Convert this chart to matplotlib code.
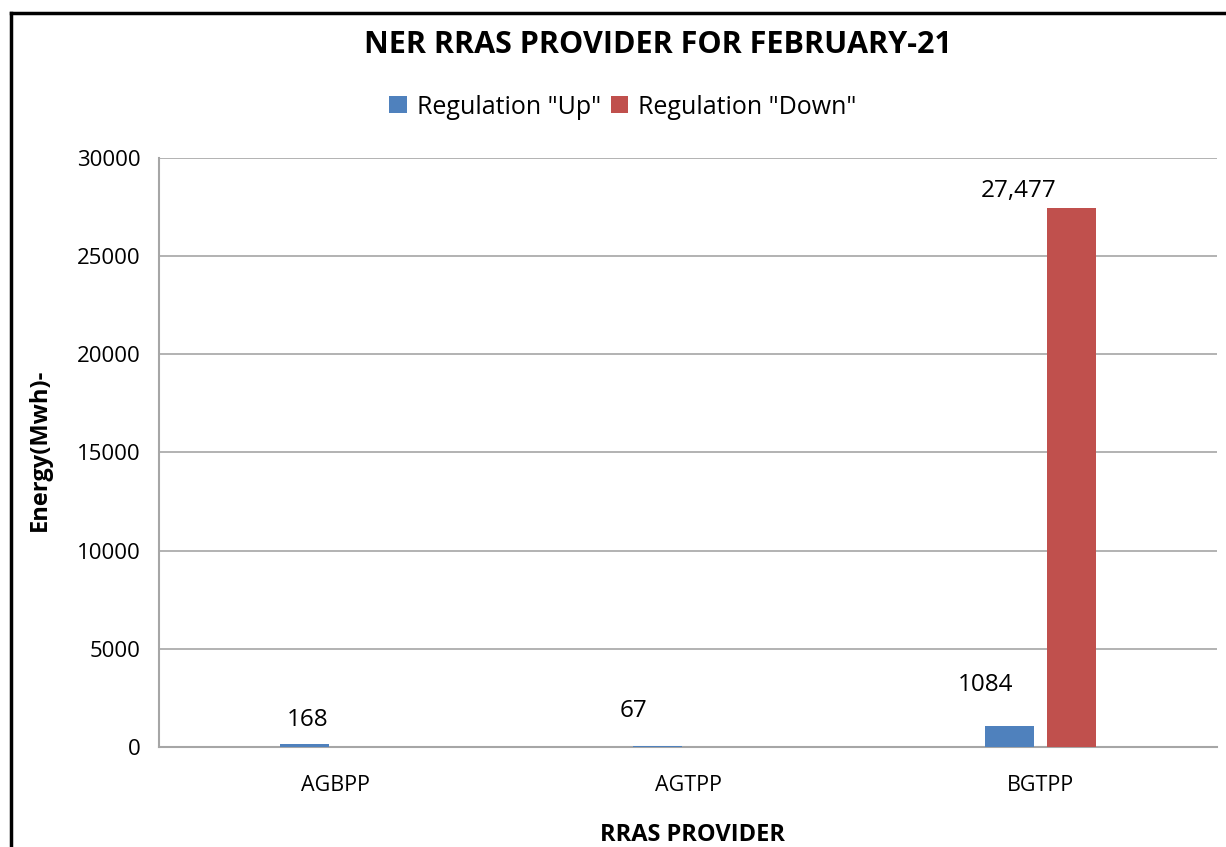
import matplotlib
matplotlib.use("Agg")
import matplotlib.pyplot as plt
from matplotlib.lines import Line2D
import numpy as np

plt.rcParams['font.family'] = ['Open Sans', 'DejaVu Sans']

categories = ["AGBPP", "AGTPP", "BGTPP"]
up_values = [168, 67, 1084]
down_values = [0, 0, 27477]
up_labels = ["168", "67", "1084"]
down_labels = ["", "", "27,477"]
yticks = [0, 5000, 10000, 15000, 20000, 25000, 30000]

# label offsets in pixels (dx, dy) relative to bar top centre
up_offsets = [(3, 24), (-24, 35), (-24, 41)]
down_offsets = [(0, 0), (0, 0), (-53, 17)]

BLUE = "#4F81BD"
RED = "#C0504D"
GRID = "#A6A6A6"

fig = plt.figure(figsize=(12.26, 8.47), dpi=100)
ax = fig.add_axes([159/1226, 1-747/847, (1217-159)/1226, (747-158)/847])

x = np.arange(len(categories))
w = 0.139
off = 0.087
bu = ax.bar(x - off, up_values, w, color=BLUE, label='Regulation "Up"', zorder=3)
bd = ax.bar(x + off, down_values, w, color=RED, label='Regulation "Down"', zorder=3)

for rect, lab, (dx, dy) in zip(bu, up_labels, up_offsets):
    if lab:
        ax.annotate(lab, (rect.get_x() + rect.get_width()/2, rect.get_height()),
                    xytext=(dx, dy), textcoords='offset pixels',
                    ha='center', va='center', fontsize=17.5, color='#000000')
for rect, lab, (dx, dy) in zip(bd, down_labels, down_offsets):
    if lab:
        ax.annotate(lab, (rect.get_x() + rect.get_width()/2, rect.get_height()),
                    xytext=(dx, dy), textcoords='offset pixels',
                    ha='center', va='center', fontsize=17.5, color='#000000')

ax.set_xlim(-0.5, 2.5)
ax.set_ylim(0, 30000)
ax.set_yticks(yticks)
ax.set_yticklabels([str(v) for v in yticks], fontsize=16)
ax.set_xticks(x)
ax.set_xticklabels(categories, fontsize=15.5)
ax.tick_params(axis='y', length=0, pad=13)
ax.tick_params(axis='x', length=0, pad=20)
ax.yaxis.grid(True, color=GRID, linewidth=1.2, zorder=0)
ax.set_axisbelow(True)
for s in ['top', 'right']:
    ax.spines[s].set_visible(False)
for s in ['left', 'bottom']:
    ax.spines[s].set_color(GRID)
    ax.spines[s].set_linewidth(1.5)

fig.text(40/1226, 1-450/847, "Energy(Mwh)-", rotation=90, ha='center', va='center',
         fontsize=17, fontweight='bold')
fig.text(692/1226, 1-835/847, "RRAS PROVIDER", ha='center', va='center',
         fontsize=17, fontweight='bold')
fig.text(658/1226, 1-45/847, "NER RRAS PROVIDER FOR FEBRUARY-21", ha='center', va='center',
         fontsize=22, fontweight='bold')

fig.legend(handles=[bu, bd], loc='center', bbox_to_anchor=(623/1226, 1-107/847),
           ncol=2, frameon=False, fontsize=18, handlelength=0.7, handleheight=0.7,
           handletextpad=0.4, columnspacing=0.4)

fig.add_artist(Line2D([11/1226, 1.0], [1-13.5/847, 1-13.5/847], transform=fig.transFigure,
                      color='black', linewidth=2.5))
fig.add_artist(Line2D([11/1226, 11/1226], [0, 1-13.5/847], transform=fig.transFigure,
                      color='black', linewidth=2.5))

fig.savefig("out.png", dpi=100)
